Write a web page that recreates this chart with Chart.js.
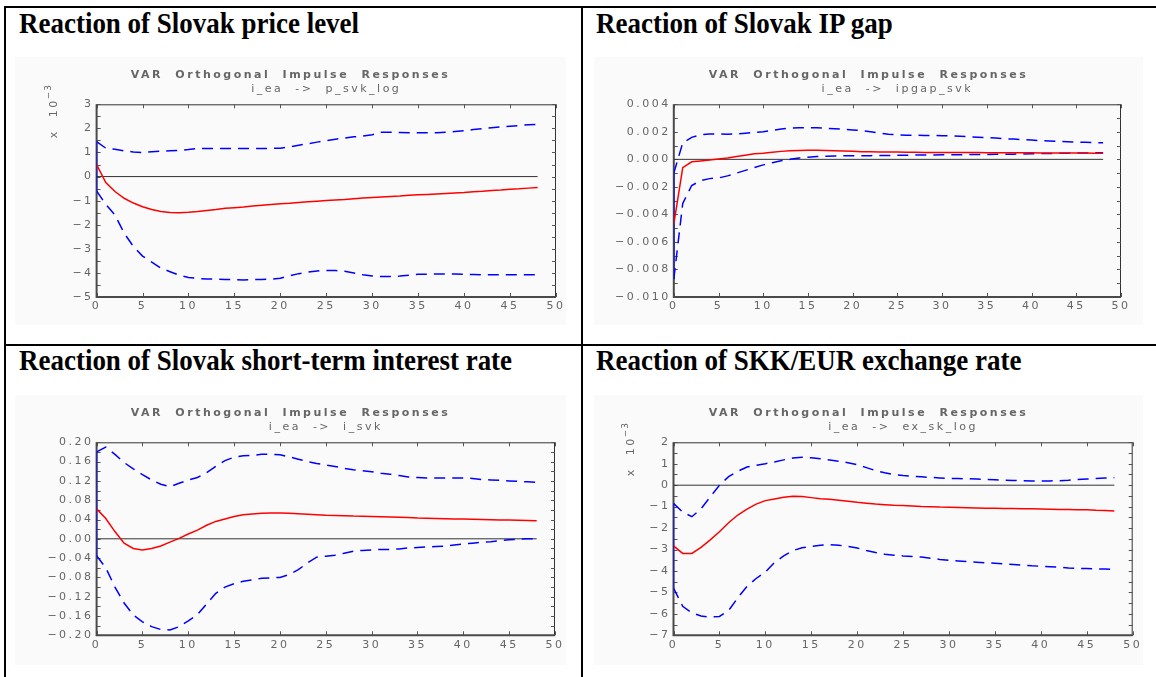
<!DOCTYPE html>
<html>
<head>
<meta charset="utf-8">
<script src="https://cdn.jsdelivr.net/npm/chart.js@4"></script>
<style>
  body { margin: 0; background: #fff; width: 1156px; height: 677px; overflow: hidden; position: relative; }
  .rule { position: absolute; background: #000; }
  .head { position: absolute; font-family: "Liberation Serif", "Times New Roman", serif; font-weight: bold;
          font-size: 29px; line-height: 1; white-space: nowrap; transform: scaleX(0.93); transform-origin: 0 0; color: #000; }
  canvas { position: absolute; background: #fafafa; }
</style>
</head>
<body>
<div class="rule" style="left:4px;top:6px;width:1152px;height:2px"></div>
<div class="rule" style="left:4px;top:6px;width:2px;height:671px"></div>
<div class="rule" style="left:581px;top:6px;width:2px;height:671px"></div>
<div class="rule" style="left:4px;top:344px;width:1152px;height:2px"></div>

<div class="head" style="left:19px;top:9px">Reaction of Slovak price level</div>
<div class="head" style="left:596px;top:9px">Reaction of Slovak IP gap</div>
<div class="head" style="left:19px;top:346px">Reaction of Slovak short-term interest rate</div>
<div class="head" style="left:596px;top:346px">Reaction of SKK/EUR exchange rate</div>

<canvas id="pricePanel" width="551" height="268" style="left:15px;top:57px"></canvas>
<canvas id="gapPanel" width="549" height="268" style="left:594px;top:57px"></canvas>
<canvas id="ratePanel" width="551" height="270" style="left:15px;top:395px"></canvas>
<canvas id="fxPanel" width="549" height="270" style="left:594px;top:395px"></canvas>

<script>
// periods after the shock
const periods = [0,1,2,3,4,5,6,7,8,9,10,11,12,13,14,15,16,17,18,19,20,21,22,23,24,
  25,26,27,28,29,30,31,32,33,34,35,36,37,38,39,40,41,42,43,44,45,46,47,48];

// i_ea -> p_svk_log  (x 10^-3)
const priceResp = [0.5, -0.25, -0.62, -0.9, -1.1, -1.25, -1.37, -1.45, -1.49, -1.5,
  -1.48, -1.45, -1.41, -1.37, -1.32, -1.29, -1.26, -1.22, -1.19, -1.16,
  -1.13, -1.11, -1.08, -1.05, -1.02, -0.99, -0.97, -0.95, -0.92, -0.89,
  -0.87, -0.85, -0.83, -0.81, -0.78, -0.76, -0.74, -0.72, -0.7, -0.68,
  -0.66, -0.63, -0.61, -0.58, -0.56, -0.53, -0.51, -0.48, -0.45];
const priceUpper = [1.45, 1.18, 1.13, 1.07, 1.02, 1.0, 1.03, 1.05, 1.07, 1.08,
  1.12, 1.17, 1.17, 1.17, 1.17, 1.17, 1.17, 1.17, 1.17, 1.17,
  1.18, 1.23, 1.3, 1.36, 1.43, 1.49, 1.55, 1.6, 1.65, 1.68,
  1.74, 1.84, 1.84, 1.83, 1.82, 1.82, 1.82, 1.82, 1.84, 1.87,
  1.9, 1.95, 1.99, 2.03, 2.06, 2.09, 2.12, 2.15, 2.17];
const priceLower = [-0.6, -1.15, -1.6, -2.35, -2.9, -3.3, -3.55, -3.8, -3.95, -4.1,
  -4.19, -4.23, -4.25, -4.26, -4.27, -4.28, -4.29, -4.28, -4.27, -4.26,
  -4.22, -4.12, -4.03, -3.97, -3.92, -3.9, -3.9, -3.93, -4.0, -4.08,
  -4.13, -4.15, -4.15, -4.13, -4.1, -4.06, -4.05, -4.05, -4.05, -4.05,
  -4.06, -4.07, -4.08, -4.08, -4.08, -4.08, -4.08, -4.08, -4.08];

// i_ea -> ipgap_svk
const gapResp = [-0.0047, -0.0006, -0.00018, -0.00012, -0.00005, 0.00003, 0.0001, 0.0002, 0.0003, 0.0004,
  0.00045, 0.00052, 0.00058, 0.00062, 0.00065, 0.00067, 0.00066, 0.00064, 0.00062, 0.0006,
  0.00058, 0.00056, 0.00055, 0.00054, 0.00053, 0.00053, 0.00052, 0.00051, 0.0005, 0.0005,
  0.00049, 0.00049, 0.00049, 0.00049, 0.00049, 0.00048, 0.00048, 0.00048, 0.00048, 0.00048,
  0.00048, 0.00047, 0.00047, 0.00047, 0.00046, 0.00046, 0.00046, 0.00045, 0.00045];
const gapUpper = [-0.001, 0.0012, 0.0016, 0.00178, 0.00184, 0.00184, 0.00182, 0.00185, 0.0019, 0.00195,
  0.002, 0.0021, 0.0022, 0.00228, 0.0023, 0.0023, 0.0023, 0.00226, 0.00222, 0.00218,
  0.00214, 0.00208, 0.002, 0.0019, 0.00182, 0.00178, 0.00176, 0.00175, 0.00174, 0.00173,
  0.00172, 0.0017, 0.00167, 0.00164, 0.00161, 0.00158, 0.00155, 0.0015, 0.00147, 0.00144,
  0.0014, 0.00136, 0.00133, 0.0013, 0.00128, 0.00126, 0.00124, 0.00122, 0.0012];
const gapLower = [-0.0087, -0.0032, -0.0019, -0.00155, -0.0014, -0.00135, -0.0012, -0.001, -0.0008, -0.0006,
  -0.0004, -0.00025, -0.0001, 0.0, 0.0001, 0.00015, 0.0002, 0.00023, 0.00025, 0.00026,
  0.00027, 0.00027, 0.00027, 0.00028, 0.00028, 0.00029, 0.0003, 0.00031, 0.00031, 0.00032,
  0.00033, 0.00034, 0.00034, 0.00035, 0.00035, 0.00036, 0.00037, 0.00038, 0.00038, 0.00039,
  0.0004, 0.00042, 0.00043, 0.00044, 0.00045, 0.00046, 0.00047, 0.00047, 0.00048];

// i_ea -> i_svk
const rateResp = [0.062, 0.042, 0.015, -0.009, -0.02, -0.023, -0.02, -0.015, -0.007, 0.001,
  0.01, 0.018, 0.028, 0.036, 0.041, 0.046, 0.05, 0.0515, 0.053, 0.0535,
  0.0535, 0.053, 0.052, 0.051, 0.05, 0.049, 0.0485, 0.048, 0.047, 0.0465,
  0.046, 0.0455, 0.045, 0.0445, 0.044, 0.043, 0.0425, 0.042, 0.0415, 0.041,
  0.041, 0.0405, 0.04, 0.0395, 0.039, 0.039, 0.0385, 0.038, 0.0375];
const rateUpper = [0.18, 0.19, 0.175, 0.158, 0.145, 0.133, 0.122, 0.113, 0.108, 0.115,
  0.122, 0.127, 0.137, 0.15, 0.162, 0.169, 0.172, 0.173, 0.175, 0.175,
  0.174, 0.17, 0.165, 0.16, 0.156, 0.153, 0.15, 0.146, 0.143, 0.141,
  0.139, 0.136, 0.134, 0.131, 0.128, 0.127, 0.126, 0.126, 0.126, 0.126,
  0.126, 0.125, 0.123, 0.122, 0.121, 0.12, 0.119, 0.118, 0.117];
const rateLower = [-0.035, -0.06, -0.1, -0.133, -0.158, -0.172, -0.182, -0.188, -0.189, -0.182,
  -0.17, -0.157, -0.135, -0.113, -0.1, -0.093, -0.088, -0.085, -0.082, -0.081,
  -0.08, -0.074, -0.064, -0.05, -0.038, -0.036, -0.034, -0.03, -0.026, -0.024,
  -0.023, -0.022, -0.022, -0.021, -0.019, -0.018, -0.017, -0.016, -0.015, -0.013,
  -0.011, -0.009, -0.007, -0.006, -0.004, -0.002, -0.001, 0.0, 0.0];

// i_ea -> ex_sk_log  (x 10^-3)
const fxResp = [-2.83, -3.18, -3.18, -2.9, -2.55, -2.17, -1.75, -1.39, -1.12, -0.88,
  -0.72, -0.64, -0.56, -0.52, -0.53, -0.58, -0.63, -0.66, -0.7, -0.75,
  -0.8, -0.84, -0.88, -0.91, -0.94, -0.95, -0.97, -0.99, -1.0, -1.02,
  -1.03, -1.04, -1.05, -1.06, -1.07, -1.08, -1.09, -1.09, -1.1, -1.1,
  -1.11, -1.12, -1.13, -1.13, -1.14, -1.15, -1.17, -1.18, -1.2];
const fxUpper = [-0.85, -1.25, -1.47, -1.1, -0.55, 0.0, 0.4, 0.65, 0.85, 0.93,
  1.0, 1.08, 1.18, 1.27, 1.3, 1.28, 1.23, 1.18, 1.12, 1.05,
  0.96, 0.82, 0.68, 0.58, 0.5, 0.45, 0.42, 0.39, 0.36, 0.34,
  0.32, 0.31, 0.3, 0.29, 0.27, 0.25, 0.23, 0.22, 0.21, 0.2,
  0.2, 0.2, 0.21, 0.23, 0.26, 0.29, 0.31, 0.33, 0.35];
const fxLower = [-4.8, -5.65, -5.95, -6.1, -6.15, -6.12, -5.85, -5.25, -4.72, -4.35,
  -4.05, -3.6, -3.3, -3.05, -2.92, -2.85, -2.8, -2.77, -2.8, -2.86,
  -2.93, -3.05, -3.14, -3.22, -3.27, -3.3, -3.32, -3.35, -3.41, -3.46,
  -3.5, -3.53, -3.56, -3.59, -3.62, -3.64, -3.67, -3.7, -3.73, -3.76,
  -3.78, -3.8, -3.83, -3.86, -3.88, -3.89, -3.9, -3.91, -3.92];

const textGray = '#666';
const smallFont = { family: 'DejaVu Sans', size: 11, lineHeight: 1.2 };

function pts(vals) {
  return vals.map((v, i) => ({ x: periods[i], y: v }));
}

function signed(v, d) {
  const r = Math.abs(v) < 1e-9 ? 0 : v;
  return (r < 0 ? '\u2212' : '') + Math.abs(r).toFixed(d);
}

// the wide, spaced-out look of the old plotting font
function spaced(ctx) { ctx.letterSpacing = '2.5px'; ctx.wordSpacing = '6px'; }
const spacing = {
  id: 'spacing',
  beforeLayout(chart) { spaced(chart.ctx); },
  beforeDraw(chart) { spaced(chart.ctx); }
};

// box round the plot with little inward tick marks
const frame = {
  id: 'frame',
  beforeDatasetsDraw(chart, args, opts) {
    const { ctx, chartArea: a, scales: { x, y } } = chart;
    ctx.save();
    ctx.lineWidth = 1;
    ctx.strokeStyle = '#333';
    ctx.beginPath();
    ctx.moveTo(a.left, a.top + 0.5); ctx.lineTo(a.right, a.top + 0.5);
    ctx.moveTo(a.right - 0.5, a.top); ctx.lineTo(a.right - 0.5, a.bottom);
    ctx.stroke();

    ctx.strokeStyle = '#555';
    ctx.beginPath();
    const n = Math.round((y.max - y.min) / opts.minor);
    for (let i = 0; i <= n; i++) {
      const py = Math.round(y.getPixelForValue(y.min + i * opts.minor)) + 0.5;
      ctx.moveTo(a.left, py); ctx.lineTo(a.left + 4, py);
      ctx.moveTo(a.right, py); ctx.lineTo(a.right - 4, py);
    }
    for (let v = x.min; v <= x.max; v += 5) {
      const px = Math.round(x.getPixelForValue(v)) + 0.5;
      ctx.moveTo(px, a.bottom); ctx.lineTo(px, a.bottom - 4);
      ctx.moveTo(px, a.top); ctx.lineTo(px, a.top + 4);
    }
    ctx.stroke();

    ctx.lineWidth = 2;
    ctx.strokeStyle = '#4a4a4a';
    ctx.beginPath();
    ctx.moveTo(a.left, a.top); ctx.lineTo(a.left, a.bottom); ctx.lineTo(a.right, a.bottom);
    ctx.stroke();
    ctx.restore();
  }
};

// "x 10^-3" scale note, written upwards beside the y labels
const scaleNote = {
  id: 'scaleNote',
  afterDraw(chart, args, opts) {
    if (!opts.show) return;
    const { ctx, chartArea: a } = chart;
    ctx.save();
    spaced(ctx);
    ctx.translate(a.left - 43.5, a.top + 34);
    ctx.rotate(-Math.PI / 2);
    ctx.fillStyle = textGray;
    ctx.textBaseline = 'middle';
    ctx.textAlign = 'left';
    ctx.font = '11px "DejaVu Sans"';
    ctx.fillText('x 10', 0, 1);
    const w = ctx.measureText('x 10').width;
    ctx.font = '9px "DejaVu Sans"';
    ctx.letterSpacing = '1px';
    ctx.fillText('\u22123', w - 1, -4);
    ctx.restore();
  }
};

function makePanel(id, s) {
  const blue = '#0000ff';
  const red = '#ff0000';
  new Chart(document.getElementById(id), {
    type: 'line',
    data: {
      datasets: [
        { data: pts(s.resp), borderColor: red, borderWidth: 1.5 },
        { data: pts(s.upper), borderColor: blue, borderWidth: 1.5, borderDash: [11, 7] },
        { data: pts(s.lower), borderColor: blue, borderWidth: 1.5, borderDash: [11, 7] },
        { data: [{ x: periods[0], y: s.upper[0] }, { x: periods[0], y: s.lower[0] }], borderColor: blue, borderWidth: 1.5 },
        { data: [{ x: periods[0], y: 0 }, { x: periods[periods.length - 1], y: 0 }], borderColor: '#333', borderWidth: 1 }
      ]
    },
    options: {
      responsive: false,
      animation: false,
      elements: { point: { radius: 0 }, line: { tension: 0 } },
      layout: { padding: { left: s.pad, right: s.pad, top: 0, bottom: 0 } },
      plugins: {
        legend: { display: false },
        tooltip: { enabled: false },
        title: { display: true, text: 'VAR Orthogonal Impulse Responses', color: textGray,
                 font: smallFont, padding: { top: 11.1, bottom: 1 } },
        subtitle: { display: true, fullSize: false, text: s.sub, color: textGray,
                    font: smallFont, padding: { top: 0, bottom: 8.8 } },
        frame: { minor: s.minor },
        scaleNote: { show: !!s.note }
      },
      scales: {
        x: {
          type: 'linear', min: 0, max: 50,
          grid: { display: false, drawTicks: false },
          border: { display: false },
          ticks: { stepSize: 5, color: textGray, font: smallFont, padding: 3, maxRotation: 0, autoSkip: false },
          afterFit(sc) { sc.height = s.xh; sc.paddingLeft = 0; sc.paddingRight = 0; }
        },
        y: {
          min: s.yMin, max: s.yMax,
          grid: { display: false, drawTicks: false },
          border: { display: false },
          ticks: { stepSize: s.yStep, color: textGray, font: smallFont, padding: 3, autoSkip: false,
                   callback: v => signed(v, s.dec) },
          afterFit(sc) { sc.width = s.yw; sc.paddingTop = 0; sc.paddingBottom = 0; }
        }
      }
    },
    plugins: [spacing, frame, scaleNote]
  });
}

makePanel('pricePanel', { resp: priceResp, upper: priceUpper, lower: priceLower, sub: 'i_ea -> p_svk_log',
  yMin: -5, yMax: 3, yStep: 1, minor: 0.5, dec: 0, note: true,
  pad: 10, yw: 71.6, xh: 28 });
makePanel('gapPanel', { resp: gapResp, upper: gapUpper, lower: gapLower, sub: 'i_ea -> ipgap_svk',
  yMin: -0.010, yMax: 0.004, yStep: 0.002, minor: 0.001, dec: 3,
  pad: 22, yw: 57.8, xh: 28 });
makePanel('ratePanel', { resp: rateResp, upper: rateUpper, lower: rateLower, sub: 'i_ea -> i_svk',
  yMin: -0.20, yMax: 0.20, yStep: 0.04, minor: 0.02, dec: 2,
  pad: 11, yw: 70.6, xh: 29.7 });
makePanel('fxPanel', { resp: fxResp, upper: fxUpper, lower: fxLower, sub: 'i_ea -> ex_sk_log',
  yMin: -7, yMax: 2, yStep: 1, minor: 0.5, dec: 0, note: true,
  pad: 10.3, yw: 69.2, xh: 29.7 });
</script>
</body>
</html>
